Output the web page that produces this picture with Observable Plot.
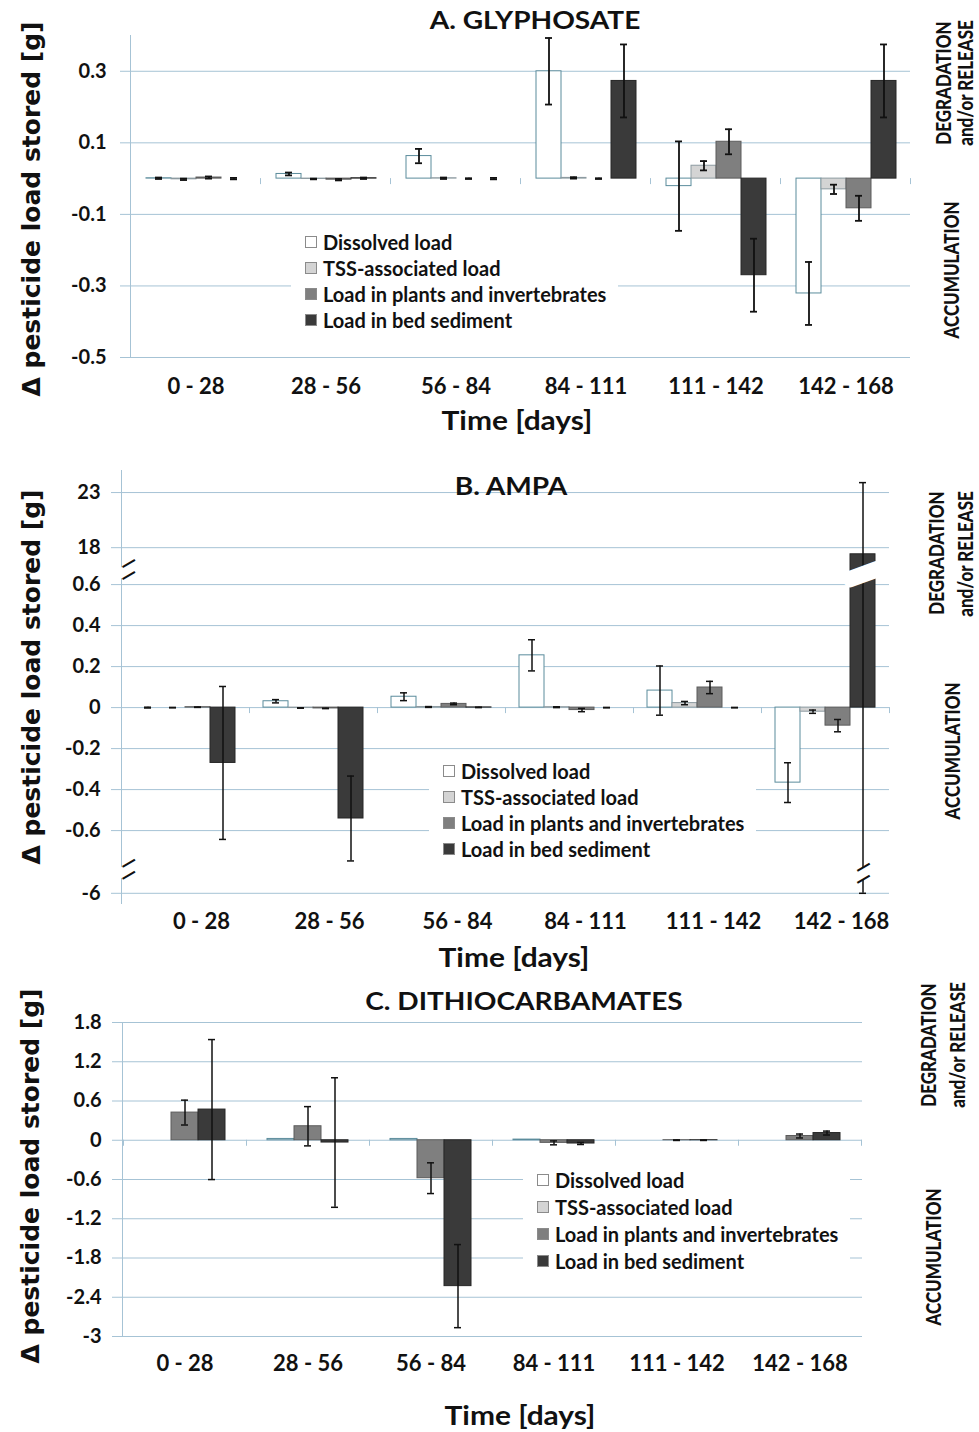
<!DOCTYPE html>
<html><head><meta charset="utf-8">
<script src="https://cdn.jsdelivr.net/npm/d3@7"></script>
<script src="https://cdn.jsdelivr.net/npm/@observablehq/plot@0.6"></script>
<style>
body{margin:0;background:#fff;}
#page{position:relative;width:979px;height:1432px;overflow:hidden;font-family:Lato,"Open Sans",sans-serif;color:#111;background:#fff;}
.panel{position:absolute;left:0;width:979px;}
.panel > svg, .panel > figure{position:absolute;left:0;top:0;margin:0;}
.abs{position:absolute;white-space:nowrap;font-weight:700;line-height:1;}
.title{font-size:24px;transform:translate(-50%,-50%) scaleX(1.17);}
.xlab{font-size:26px;transform:translate(-50%,-50%) scaleX(1.15);}
.ylab{font-family:"DejaVu Sans",sans-serif;font-size:25px;transform:translate(-50%,-50%) rotate(-90deg);}
.side{font-size:17px;font-weight:900;transform:translate(-50%,-50%) rotate(-90deg) scaleY(1.2);}
.legend{position:absolute;background:#fff;padding:0 12px 3px 14px;font-weight:700;font-size:20px;}
.legend .row{display:flex;align-items:center;height:26px;white-space:nowrap;}
.legend .sw{width:10px;height:10px;border:1px solid #8b8b8b;margin-right:6px;flex:none;}
</style></head><body><div id="page"></div>
<script>
// ---------- data ----------
const periods = ["0 - 28", "28 - 56", "56 - 84", "84 - 111", "111 - 142", "142 - 168"];
const periodBounds = [0, 28, 56, 84, 111, 142, 168];
const seriesNames = ["Dissolved load", "TSS-associated load", "Load in plants and invertebrates", "Load in bed sediment"];

// A. Glyphosate (rows: dissolved, TSS, plants, bed)
const glyTicks = [0.3, 0.1, -0.1, -0.3, -0.5];
const glyValues = [
  [0.001, 0.013, 0.063, 0.300, -0.021, -0.321],
  [-0.002, -0.001, 0.001, 0.002, 0.036, -0.030],
  [0.003, -0.003, 0.000, 0.000, 0.103, -0.083],
  [0.000, 0.001, 0.000, 0.273, -0.270, 0.273]
];
const glyErrors = [
  [0.002, 0.004, 0.020, 0.093, 0.125, 0.088],
  [0.002, 0.001, 0.002, 0.002, 0.013, 0.013],
  [0.003, 0.002, 0.001, 0.001, 0.035, 0.035],
  [0.002, 0.002, 0.002, 0.102, 0.102, 0.102]
];

// B. AMPA (broken axis)
const ampaTicks = [23, 18, 0.6, 0.4, 0.2, 0, -0.2, -0.4, -0.6, -6];
const ampaValues = [
  [0.000, 0.031, 0.053, 0.255, 0.083, -0.366],
  [0.000, -0.002, 0.003, 0.002, 0.022, -0.020],
  [0.002, -0.004, 0.018, -0.012, 0.098, -0.088],
  [-0.270, -0.541, 0.001, 0.000, 0.000, 17.4]
];
const ampaErrors = [
  [0.002, 0.008, 0.019, 0.076, 0.120, 0.097],
  [0.001, 0.001, 0.002, 0.002, 0.008, 0.008],
  [0.001, 0.001, 0.004, 0.008, 0.030, 0.030],
  [0.373, 0.207, 0.001, 0.001, 0.001, [23.4, 6.5]]
];
// axis segments kept, and the two gaps of the broken axis
const ampaSegments = [-6.9, -5.4, -0.78, 0.62, 17.2, 25];
const ampaBreaks = [6, -2];

// C. Dithiocarbamates (rows: dissolved, plants, bed)
const dtcTicks = [1.8, 1.2, 0.6, 0, -0.6, -1.2, -1.8, -2.4, -3];
const dtcSeries = [0, 2, 3];
const dtcValues = [
  [0.000, 0.020, 0.020, 0.010, 0.000, 0.000],
  [0.423, 0.214, -0.580, -0.040, 0.001, 0.065],
  [0.469, -0.035, -2.230, -0.050, 0.001, 0.110]
];
const dtcErrors = [
  [0, 0, 0, 0, 0, 0],
  [0.19, 0.30, 0.235, 0.03, 0.004, 0.03],
  [1.07, 0.99, 0.635, 0.015, 0.004, 0.03]
];

// ---------- styles ----------
const seriesFill = ["#ffffff", "#d4d4d4", "#7f7f7f", "#3a3a3a"];
const seriesStroke = ["#5b8c9c", "#8d9ba1", "#5c5c5c", "#262626"];
const gridColor = "#a6c3d5";
const ink = "#111";

function buildRows(values, errors, seriesIdx) {
  const rows = [];
  seriesIdx.forEach((s, i) => periods.forEach((p, j) => {
    const v = values[i][j], e = errors[i][j];
    const [em, ep] = Array.isArray(e) ? e : [e, e];
    rows.push({period: p, series: seriesNames[s], value: v, lo: v - em, hi: v + ep,
      err: Math.max(em, ep), fill: seriesFill[s], stroke: seriesStroke[s]});
  }));
  return rows;
}

function slashMarks(data, opts) {
  return [
    Plot.text(data, {...opts, text: () => "\u2014", fill: "white", stroke: "white", strokeWidth: 9, fontSize: 16, fontFamily: "DejaVu Sans", rotate: -30}),
    Plot.text(data, {...opts, text: () => "\u2014", fill: ink, fontSize: 16, fontFamily: "DejaVu Sans", rotate: -30, dy: -6}),
    Plot.text(data, {...opts, text: () => "\u2014", fill: ink, fontSize: 16, fontFamily: "DejaVu Sans", rotate: -30, dy: 6})
  ];
}

function yScale(cfg) {
  const y = {domain: cfg.yDomain, axis: null};
  if (cfg.yTransform) y.transform = cfg.yTransform;
  return y;
}
const baseStyle = {background: "transparent", fontFamily: "Lato, 'Open Sans', sans-serif", fontWeight: 700, color: ink, overflow: "visible"};

// background: grid, y axis line, y tick labels, period boundary ticks, axis break marks
function backPlot(cfg, extra = []) {
  return Plot.plot({
    width: 979, height: cfg.height,
    marginLeft: cfg.ml, marginRight: cfg.mr, marginTop: cfg.mt, marginBottom: cfg.mb,
    style: baseStyle,
    x: {type: "point", domain: periodBounds, padding: 0, axis: null},
    y: yScale(cfg),
    marks: [
      Plot.ruleY(cfg.ticks, {y: d => d, stroke: gridColor, strokeWidth: 1, insetLeft: -10}),
      Plot.ruleX(periodBounds, {x: d => d, y1: 0, y2: 0, insetBottom: -6, stroke: gridColor, strokeWidth: 1}),
      Plot.frame({anchor: "left", stroke: gridColor}),
      Plot.text(cfg.ticks, {y: d => d, text: d => String(d), frameAnchor: "left", textAnchor: "end", dx: -cfg.labelGap, fontSize: 20, fontWeight: 700, fill: ink}),
      ...extra
    ]
  });
}

// foreground: grouped bars with error bars, faceted by period
function frontPlot(cfg, rows, xDomain, extra = []) {
  const errRows = rows.filter(d => d.err > 0);
  return Plot.plot({
    width: 979, height: cfg.height,
    marginLeft: cfg.ml, marginRight: cfg.mr, marginTop: cfg.mt, marginBottom: cfg.mb,
    style: baseStyle,
    fx: {domain: periods, paddingInner: cfg.pad, paddingOuter: cfg.pad / 2, label: null},
    x: {domain: xDomain, padding: 0, axis: null},
    y: yScale(cfg),
    color: {type: "identity"},
    marks: [
      Plot.barY(rows, {fx: "period", x: "series", y: "value", fill: "fill", stroke: "stroke", strokeWidth: 1, inset: 0}),
      Plot.ruleX(errRows, {fx: "period", x: "series", y1: "lo", y2: "hi", stroke: ink, strokeWidth: cfg.errWidth}),
      Plot.tickY(errRows, {fx: "period", x: "series", y: "lo", stroke: ink, strokeWidth: cfg.errWidth, insetLeft: cfg.cap, insetRight: cfg.cap}),
      Plot.tickY(errRows, {fx: "period", x: "series", y: "hi", stroke: ink, strokeWidth: cfg.errWidth, insetLeft: cfg.cap, insetRight: cfg.cap}),
      ...extra,
      Plot.axisFx({anchor: "bottom", tickSize: 0, tickPadding: cfg.fxPad, fontSize: 22, fontWeight: 700, label: null, dx: cfg.fxDx || 0, fill: ink})
    ]
  });
}

const page = document.getElementById("page");
function place(els, top, height) {
  const d = document.createElement("div"); d.className = "panel"; d.style.top = top + "px"; d.style.height = height + "px";
  els.forEach(el => d.appendChild(el)); page.appendChild(d);
}
function label(text, cls, x, y) { const d = document.createElement("div"); d.className = "abs " + cls; d.textContent = text; d.style.left = x + "px"; d.style.top = y + "px"; page.appendChild(d); }
function legend(x, y, rowH) {
  const box = document.createElement("div"); box.className = "legend"; box.style.left = x + "px"; box.style.top = y + "px";
  seriesNames.forEach((s, i) => {
    const r = document.createElement("div"); r.className = "row"; r.style.height = rowH + "px";
    const sw = document.createElement("span"); sw.className = "sw"; sw.style.background = seriesFill[i];
    const t = document.createElement("span"); t.textContent = s;
    r.appendChild(sw); r.appendChild(t); box.appendChild(r);
  });
  page.appendChild(box);
}

// Panel A
const cfgA = {height: 410, ml: 130, mr: 69, mt: 35, mb: 53, yDomain: [-0.5, 0.4], ticks: glyTicks,
  pad: 0.208, cap: 9, errWidth: 1.8, fxPad: 21, labelGap: 24};
const rowsA = buildRows(glyValues, glyErrors, [0, 1, 2, 3]);
place([backPlot(cfgA), frontPlot(cfgA, rowsA, seriesNames)], 0, 410);

// Panel B: broken axis — each kept segment gets its own share of the height
const ampaAxis = d3.scaleLinear().domain(ampaSegments).range([0, 17, 36, 323, 347, 433]);
const cfgB = {height: 500, ml: 121, mr: 90, mt: 10, mb: 57,
  yDomain: [0, 433], yTransform: v => ampaAxis(v),
  ticks: ampaTicks, pad: 0.22, cap: 9, errWidth: 1.5, fxPad: 10, fxDx: 16, labelGap: 21};
const rowsB = buildRows(ampaValues, ampaErrors, [0, 1, 2, 3]);
const bedLast = [{period: periods[5], series: seriesNames[3]}];
const extraB = [
  Plot.text(bedLast, {fx: "period", x: "series", y: () => ampaBreaks[0], text: () => "\u2014", fill: "white", stroke: "white", strokeWidth: 12, fontSize: 34, fontFamily: "DejaVu Sans", rotate: -20}),
  ...slashMarks(bedLast, {fx: "period", x: "series", y: () => ampaBreaks[1]})
];
place([backPlot(cfgB, slashMarks(ampaBreaks, {y: d => d, frameAnchor: "left"})), frontPlot(cfgB, rowsB, seriesNames, extraB)], 460, 500);

// Panel C
const cfgC = {height: 420, ml: 122, mr: 117, mt: 42, mb: 64, yDomain: [-3, 1.8], ticks: dtcTicks,
  pad: 0.327, cap: 10, errWidth: 1.5, fxPad: 19, labelGap: 21};
const rowsC = buildRows(dtcValues, dtcErrors, dtcSeries);
place([backPlot(cfgC), frontPlot(cfgC, rowsC, dtcSeries.map(i => seriesNames[i]))], 980, 420);

// Text overlays
label("A. GLYPHOSATE", "title", 535, 20);
label("B. AMPA", "title", 511, 486);
label("C. DITHIOCARBAMATES", "title", 524, 1001);
label("Time [days]", "xlab", 517, 420);
label("Time [days]", "xlab", 514, 957);
label("Time [days]", "xlab", 520, 1415);
label("\u0394 pesticide load stored [g]", "ylab", 31, 209);
label("\u0394 pesticide load stored [g]", "ylab", 31, 677);
label("\u0394 pesticide load stored [g]", "ylab", 30, 1176);
label("DEGRADATION", "side", 943, 83);
label("and/or RELEASE", "side", 965, 83);
label("ACCUMULATION", "side", 951, 270);
label("DEGRADATION", "side", 936, 553);
label("and/or RELEASE", "side", 965, 554);
label("ACCUMULATION", "side", 952, 751);
label("DEGRADATION", "side", 928, 1045);
label("and/or RELEASE", "side", 957, 1045);
label("ACCUMULATION", "side", 933, 1257);

legend(291, 229, 26);
legend(429, 758, 26);
legend(523, 1166, 27);
</script></body></html>
